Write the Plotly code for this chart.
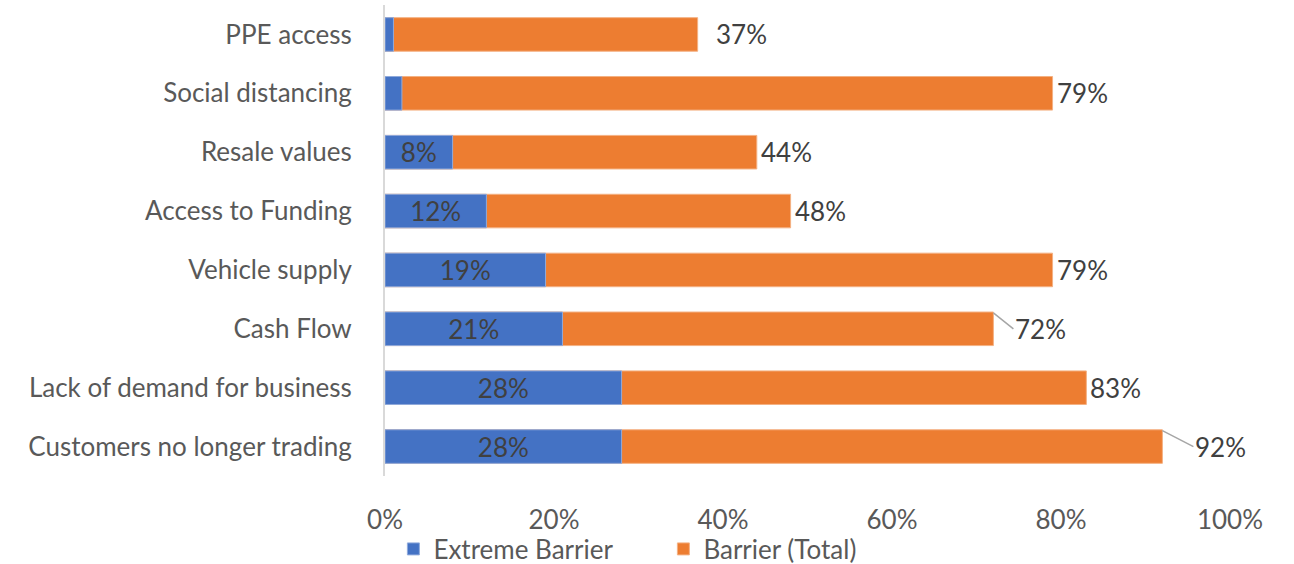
import plotly.graph_objects as go

categories = ["PPE access", "Social distancing", "Resale values", "Access to Funding",
              "Vehicle supply", "Cash Flow", "Lack of demand for business",
              "Customers no longer trading"]
extreme = [0.01, 0.02, 0.08, 0.12, 0.19, 0.21, 0.28, 0.28]
total = [0.37, 0.79, 0.44, 0.48, 0.79, 0.72, 0.83, 0.92]
extreme_labels = ["", "", "8%", "12%", "19%", "21%", "28%", "28%"]
total_labels = ["37%", "79%", "44%", "48%", "79%", "72%", "83%", "92%"]
x_ticks = [0, 0.2, 0.4, 0.6, 0.8, 1.0]
x_tick_labels = ["0%", "20%", "40%", "60%", "80%", "100%"]

# label placement styling (pixel offsets of the outer labels)
label_offset = [16, 2, 2, 2, 2, 20, 2, 31]
leader = [False, False, False, False, False, True, False, True]

FONT = "Lato"
FS = 26
BLUE = "#4472C4"
ORANGE = "#ED7D31"
TXT = "#404040"
CAT = "#595959"

fig = go.Figure()
fig.add_trace(go.Bar(
    y=categories, x=total, orientation="h", name="Barrier (Total)",
    marker=dict(color=ORANGE, line=dict(color="#F4B183", width=1)),
    legendrank=2, hoverinfo="x+y",
))
fig.add_trace(go.Bar(
    y=categories, x=extreme, orientation="h", name="Extreme Barrier",
    marker=dict(color=BLUE, line=dict(color="#8FAADC", width=1)),
    text=extreme_labels, textposition="inside", insidetextanchor="middle",
    textfont=dict(family=FONT, size=FS, color=TXT), constraintext="none",
    legendrank=1, hoverinfo="x+y",
))

annotations = []
for i, (c, v, lab, off, ld) in enumerate(zip(categories, total, total_labels, label_offset, leader)):
    if ld:
        annotations.append(dict(
            x=v, y=i - 0.27, xref="x", yref="y", text=lab,
            showarrow=True, arrowhead=0, arrowwidth=1.5, arrowcolor="#A6A6A6",
            ax=off, ay=16, xanchor="left", yanchor="middle",
            font=dict(family=FONT, size=FS, color=TXT), standoff=0,
        ))
    else:
        annotations.append(dict(
            x=v, y=c, xref="x", yref="y", text=lab, showarrow=False,
            xanchor="left", yanchor="middle", xshift=off,
            font=dict(family=FONT, size=FS, color=TXT),
        ))

fig.update_layout(
    barmode="overlay",
    bargap=0.43,
    width=1294, height=564,
    margin=dict(l=385, r=64, t=5, b=88, autoexpand=False),
    paper_bgcolor="white", plot_bgcolor="white",
    font=dict(family=FONT, size=FS, color=CAT),
    showlegend=True,
    legend=dict(orientation="h", xref="container", yref="paper",
                x=0.304, xanchor="left", y=-0.155, yanchor="middle",
                font=dict(family=FONT, size=FS, color=CAT),
                itemwidth=30, entrywidth=225, tracegroupgap=0,
                bgcolor="rgba(0,0,0,0)"),
    annotations=annotations,
    xaxis=dict(range=[0, 1.0], tickvals=x_ticks, ticktext=x_tick_labels,
               showgrid=False, zeroline=False, showline=False,
               ticklabelstandoff=26, tickfont=dict(family=FONT, size=FS, color=CAT),
               fixedrange=True),
    yaxis=dict(categoryorder="array", categoryarray=categories, autorange="reversed",
               showgrid=False, zeroline=False, showline=True, linecolor="#D9D9D9",
               linewidth=2, ticklabelstandoff=26,
               tickfont=dict(family=FONT, size=FS, color=CAT)),
)

fig.write_html("out.html")
